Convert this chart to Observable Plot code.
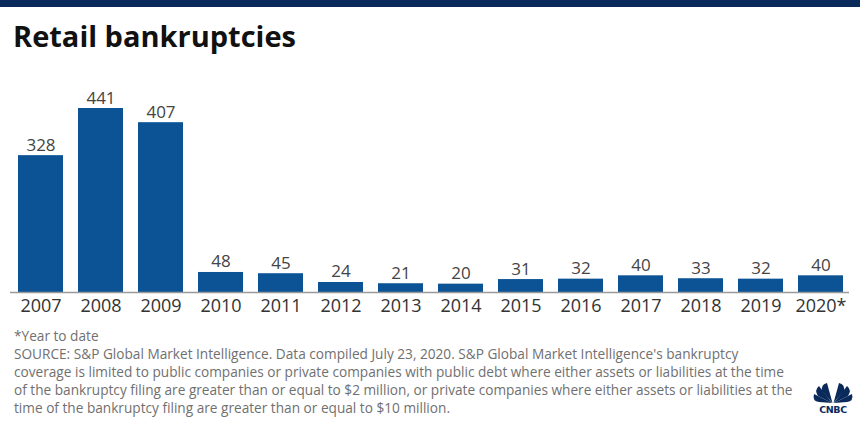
<!DOCTYPE html>
<html>
<head>
<meta charset="utf-8">
<script src="https://cdn.jsdelivr.net/npm/d3@7"></script>
<script src="https://cdn.jsdelivr.net/npm/@observablehq/plot@0.6"></script>
<style>
  body { margin: 0; background: #fff; width: 860px; height: 430px; overflow: hidden; position: relative; font-family: "Open Sans", sans-serif; }
  #topbar { position: absolute; left: 0; top: 0; width: 860px; height: 7px; background: #0b2a5c; }
  #title { position: absolute; left: 13px; top: 16px; font-size: 29px; font-weight: 700; color: #111; letter-spacing: 0px; }
  #chart { position: absolute; left: 0; top: 70px; }
  #notes { position: absolute; left: 14px; top: 327px; font-size: 13.65px; line-height: 18px; color: #707070; width: 790px; white-space: nowrap; }
  #logo { position: absolute; left: 811px; top: 382px; }
</style>
</head>
<body>
<div id="topbar"></div>
<div id="title">Retail bankruptcies</div>
<div id="chart"></div>
<div id="notes">*Year to date<br>SOURCE: S&amp;P Global Market Intelligence. Data compiled July 23, 2020. S&amp;P Global Market Intelligence's bankruptcy<br>coverage is limited to public companies or private companies with public debt where either assets or liabilities at the time<br>of the bankruptcy filing are greater than or equal to $2 million, or private companies where either assets or liabilities at the<br>time of the bankruptcy filing are greater than or equal to $10 million.</div>
<svg id="logo" width="44" height="32" viewBox="0 0 44 32">
  <g fill="#0b2a5c">
    <path d="M21 21 L3 12 Q1 19 8 20 Z"/>
    <path d="M21 21 L8 4 Q3 8 7 14 Z"/>
    <path d="M21.5 21 L16 1 Q10 2 11 9 Z"/>
    <path d="M22.5 21 L28 1 Q34 2 33 9 Z"/>
    <path d="M23 21 L36 4 Q41 8 37 14 Z"/>
    <path d="M23 21 L41 12 Q43 19 36 20 Z"/>
    <text x="22" y="31" text-anchor="middle" font-family="DejaVu Sans" font-weight="900" font-size="9.5" letter-spacing="-0.4">CNBC</text>
  </g>
</svg>
<script>
const years = ["2007","2008","2009","2010","2011","2012","2013","2014","2015","2016","2017","2018","2019","2020*"];
const counts = [328, 441, 407, 48, 45, 24, 21, 20, 31, 32, 40, 33, 32, 40];
const data = years.map((y, i) => ({year: y, count: counts[i]}));

const chart = Plot.plot({
  width: 860,
  height: 250,
  marginLeft: 18,
  marginRight: 17,
  marginTop: 38,
  marginBottom: 28,
  style: {fontFamily: "'Open Sans', sans-serif", background: "transparent"},
  x: {domain: years, paddingInner: 0.25, paddingOuter: 0, label: null},
  y: {domain: [0, 441], axis: null},
  marks: [
    Plot.barY(data, {x: "year", y: "count", fill: "#0b5394"}),
    Plot.ruleY([0], {stroke: "#9a9a9a", strokeWidth: 1.5, insetLeft: -8, insetRight: -6}),
    Plot.text(data, {x: "year", y: "count", text: d => String(d.count), lineAnchor: "bottom", dy: -5, fontSize: 17, fill: "#444"}),
    Plot.axisX({tickSize: 0, tickPadding: 7, fontSize: 18, label: null})
  ]
});
chart.querySelectorAll("[aria-label='x-axis tick label'] text").forEach(t => t.setAttribute("fill", "#333"));
document.getElementById("chart").appendChild(chart);
</script>
</body>
</html>
